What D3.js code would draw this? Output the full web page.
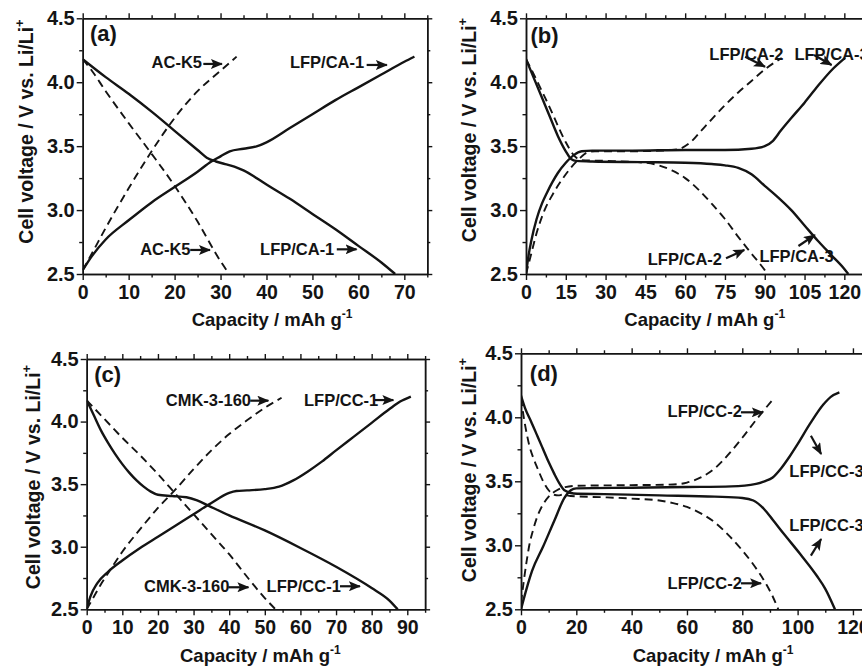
<!DOCTYPE html>
<html><head><meta charset="utf-8">
<script src="https://cdn.jsdelivr.net/npm/d3@7"></script>
<style>
body{margin:0;background:#fff}
svg{display:block}
text{font-family:"Liberation Sans",Arial,Helvetica,sans-serif;font-weight:bold;fill:#141414}
</style>
</head><body>
<svg id="chart" width="862" height="667"></svg>
<script>
// ---------- tick labels ----------
const yTicks = [2.5, 3.0, 3.5, 4.0, 4.5];
const aTicks = [0, 10, 20, 30, 40, 50, 60, 70];
const bTicks = [0, 15, 30, 45, 60, 75, 90, 105, 120];
const cTicks = [0, 10, 20, 30, 40, 50, 60, 70, 80, 90];
const dTicks = [0, 20, 40, 60, 80, 100, 120];

// ---------- panel (a) ----------
const a_LFP_CA1_charge = [[0,2.53],[2,2.64],[5,2.77],[10,2.92],[15,3.06],[20,3.18],[25,3.30],[28,3.38],[30,3.42],[32,3.46],[35,3.48],[38,3.50],[40,3.53],[45,3.64],[50,3.75],[55,3.86],[60,3.96],[65,4.06],[70,4.16],[72.2,4.20]];
const a_LFP_CA1_discharge = [[0,4.18],[5,4.04],[10,3.91],[15,3.77],[20,3.62],[25,3.47],[27,3.41],[29,3.38],[31,3.36],[33,3.34],[35,3.31],[40,3.20],[45,3.09],[50,2.97],[55,2.85],[60,2.72],[65,2.59],[68,2.50]];
const a_ACK5_charge = [[0,2.53],[2,2.66],[5,2.86],[10,3.17],[15,3.46],[20,3.72],[25,3.93],[30,4.09],[33.5,4.20]];
const a_ACK5_discharge = [[0,4.18],[2,4.09],[5,3.93],[10,3.68],[15,3.44],[20,3.19],[25,2.91],[30,2.60],[31.5,2.52]];

// ---------- panel (b) ----------
const b_LFP_CA3_charge = [[0,2.50],[1,2.65],[2,2.76],[4,2.93],[6,3.05],[8,3.14],[10,3.22],[12,3.29],[15,3.37],[18,3.43],[21,3.46],[25,3.465],[40,3.465],[60,3.47],[75,3.47],[85,3.48],[90,3.50],[93,3.54],[96,3.62],[100,3.72],[105,3.84],[110,3.97],[115,4.09],[120.3,4.19]];
const b_LFP_CA3_discharge = [[0,4.18],[3,4.03],[6,3.88],[9,3.73],[12,3.58],[15,3.46],[17,3.40],[19,3.385],[25,3.38],[45,3.375],[60,3.37],[70,3.36],[75,3.35],[80,3.33],[85,3.28],[90,3.19],[95,3.10],[100,3.00],[105,2.88],[110,2.76],[115,2.65],[120,2.54],[121.5,2.50]];
const b_LFP_CA2_charge = [[0,2.50],[2,2.66],[4,2.82],[7,3.00],[10,3.12],[15,3.28],[20,3.40],[23,3.45],[26,3.46],[40,3.46],[55,3.47],[58,3.48],[62,3.53],[66,3.62],[70,3.71],[75,3.82],[80,3.92],[85,4.01],[90,4.10],[96.4,4.19]];
const b_LFP_CA2_discharge = [[0,4.18],[3,4.06],[6,3.93],[9,3.80],[12,3.66],[15,3.53],[18,3.43],[21,3.39],[30,3.385],[45,3.37],[50,3.35],[55,3.31],[60,3.25],[65,3.16],[70,3.05],[75,2.93],[80,2.79],[85,2.66],[90,2.53],[91,2.50]];

// ---------- panel (c) ----------
const c_LFP_CC1_charge = [[0,2.50],[1,2.60],[3,2.71],[6,2.80],[10,2.89],[15,2.99],[20,3.08],[25,3.17],[30,3.26],[35,3.35],[40,3.43],[42,3.445],[45,3.45],[50,3.46],[54,3.48],[58,3.53],[62,3.60],[66,3.68],[70,3.77],[75,3.88],[80,3.99],[85,4.10],[88,4.16],[91,4.20]];
const c_LFP_CC1_discharge = [[0,4.17],[2,4.05],[4,3.93],[6,3.83],[8,3.74],[10,3.66],[12,3.59],[14,3.53],[16,3.48],[18,3.44],[20,3.415],[24,3.405],[28,3.395],[31,3.37],[34,3.33],[40,3.25],[50,3.13],[60,2.99],[70,2.84],[80,2.67],[85,2.57],[87.3,2.50]];
const c_CMK_charge = [[0,2.50],[2,2.60],[4,2.70],[6.5,2.81],[10,2.96],[15,3.14],[20,3.31],[25,3.46],[30,3.62],[35,3.77],[40,3.90],[45,4.01],[50,4.11],[54.7,4.19]];
const c_CMK_discharge = [[0,4.17],[5,4.02],[10,3.87],[15,3.73],[20,3.58],[25,3.42],[30,3.26],[35,3.10],[40,2.94],[45,2.76],[50,2.59],[53,2.50]];

// ---------- panel (d) ----------
const d_LFP_CC3_charge = [[0,2.50],[2,2.66],[4,2.80],[8,2.99],[12,3.19],[15.7,3.37],[18,3.43],[20,3.445],[40,3.45],[60,3.455],[76,3.46],[85,3.48],[88,3.50],[91,3.53],[94,3.60],[97,3.69],[100,3.79],[104.5,3.95],[109.3,4.10],[112,4.16],[115.1,4.195]];
const d_LFP_CC3_discharge = [[0,4.17],[1.5,4.07],[3.6,3.97],[6,3.85],[7.8,3.76],[10,3.65],[12,3.56],[14,3.48],[15.7,3.43],[19,3.405],[30,3.40],[50,3.39],[70,3.38],[80,3.37],[84,3.35],[88,3.28],[91,3.20],[95,3.09],[101,2.93],[107,2.76],[110,2.66],[113.5,2.50]];
const d_LFP_CC2_charge = [[0,2.55],[1,2.72],[2,2.87],[3,3.00],[4.5,3.13],[6,3.23],[8,3.32],[10,3.38],[13,3.43],[16,3.455],[20,3.465],[40,3.47],[55,3.475],[60,3.49],[65,3.53],[70,3.60],[75,3.71],[80,3.84],[85,3.98],[88,4.06],[91.5,4.15]];
const d_LFP_CC2_discharge = [[0,4.15],[1,4.00],[2,3.88],[3,3.78],[4.5,3.68],[6,3.60],[8,3.50],[10,3.43],[12,3.395],[13.5,3.39],[15,3.395],[18,3.385],[30,3.375],[40,3.365],[50,3.35],[55,3.33],[60,3.30],[65,3.25],[70,3.18],[75,3.08],[80,2.96],[84,2.85],[88,2.72],[91,2.60],[93,2.50]];

// ---------- annotation texts ----------
const aLabels = ["AC-K5", "LFP/CA-1", "AC-K5", "LFP/CA-1"];
const bLabels = ["LFP/CA-2", "LFP/CA-3", "LFP/CA-2", "LFP/CA-3"];
const cLabels = ["CMK-3-160", "LFP/CC-1", "CMK-3-160", "LFP/CC-1"];
const dLabels = ["LFP/CC-2", "LFP/CC-3", "LFP/CC-3", "LFP/CC-2"];

// ================= drawing =================
const svg = d3.select("#chart");
const INK = "#141414";

const defs = svg.append("defs");
defs.append("marker").attr("id","ah").attr("markerUnits","userSpaceOnUse")
  .attr("markerWidth",12).attr("markerHeight",10).attr("refX",11).attr("refY",5)
  .attr("orient","auto")
  .append("path").attr("d","M0,0 L12,5 L0,10 L2.5,5 Z").attr("fill",INK);

function panel(cfg) {
  const x = d3.scaleLinear().domain(cfg.xd).range(cfg.xr);
  const y = d3.scaleLinear().domain([2.5, 4.5]).range(cfg.yr);
  const g = svg.append("g");
  const clipId = "clip" + cfg.id;
  defs.append("clipPath").attr("id", clipId).append("rect")
    .attr("x", cfg.xr[0]).attr("y", cfg.yr[1])
    .attr("width", cfg.xr[1] - cfg.xr[0]).attr("height", cfg.yr[0] - cfg.yr[1]);

  // curves
  const line = d3.line().x(d => x(d[0])).y(d => y(d[1])).curve(d3.curveMonotoneX);
  const cg = g.append("g").attr("clip-path", `url(#${clipId})`);
  cfg.series.forEach(s => {
    cg.append("path").attr("d", line(s.data)).attr("fill","none")
      .attr("stroke", INK)
      .attr("stroke-width", s.dash ? 1.9 : 2.4)
      .attr("stroke-dasharray", s.dash ? "8,5" : null)
      .attr("stroke-linejoin","round");
  });

  // axes
  const minorX = d3.range(cfg.xd[0], cfg.xd[1] + 1e-9, cfg.minor).filter(v => !cfg.ticks.some(t => Math.abs(t - v) < 1e-9));
  const minorY = d3.range(2.5, 4.5 + 1e-9, 0.25).filter(v => !yTicks.some(t => Math.abs(t - v) < 1e-9));
  const style = (sel, fs) => {
    sel.attr("font-family", null).attr("font-size", null);
    sel.select(".domain").attr("stroke", INK).attr("stroke-width", 1.5);
    sel.selectAll(".tick line").attr("stroke", INK).attr("stroke-width", 1.4);
    sel.selectAll(".tick text").attr("font-size", fs || 19).attr("fill", INK);
  };
  const H = cfg.yr[0], T = cfg.yr[1], L = cfg.xr[0], R = cfg.xr[1];
  g.append("g").attr("transform", `translate(0,${H})`)
    .call(d3.axisBottom(x).tickValues(cfg.ticks).tickFormat(d3.format("d")).tickSize(6).tickSizeOuter(0).tickPadding(5)).call(style, 19.5);
  g.append("g").attr("transform", `translate(0,${H})`)
    .call(d3.axisBottom(x).tickValues(minorX).tickFormat("").tickSize(3.5).tickSizeOuter(0)).call(style);
  g.append("g").attr("transform", `translate(0,${T})`)
    .call(d3.axisTop(x).tickValues(cfg.ticks).tickFormat("").tickSize(5).tickSizeOuter(0)).call(style);
  g.append("g").attr("transform", `translate(0,${T})`)
    .call(d3.axisTop(x).tickValues(minorX).tickFormat("").tickSize(3).tickSizeOuter(0)).call(style);
  g.append("g").attr("transform", `translate(${L},0)`)
    .call(d3.axisLeft(y).tickValues(yTicks).tickFormat(d3.format(".1f")).tickSize(6).tickSizeOuter(0).tickPadding(2)).call(style, 20);
  g.append("g").attr("transform", `translate(${L},0)`)
    .call(d3.axisLeft(y).tickValues(minorY).tickFormat("").tickSize(3.5).tickSizeOuter(0)).call(style);
  g.append("g").attr("transform", `translate(${R},0)`)
    .call(d3.axisRight(y).tickValues(yTicks).tickFormat("").tickSize(5).tickSizeOuter(0)).call(style);
  g.append("g").attr("transform", `translate(${R},0)`)
    .call(d3.axisRight(y).tickValues(minorY).tickFormat("").tickSize(3).tickSizeOuter(0)).call(style);

  // panel letter
  g.append("text").attr("x", x(cfg.tag[1])).attr("y", y(cfg.tag[2]))
    .attr("font-size", 22).text(cfg.tag[0]);

  // annotations
  cfg.notes.forEach((n, i) => {
    g.append("text").attr("x", x(n.t[0])).attr("y", y(n.t[1]))
      .attr("font-size", 16.5).text(cfg.labels[i]);
    g.append("line")
      .attr("x1", x(n.a[0])).attr("y1", y(n.a[1]))
      .attr("x2", x(n.a[2])).attr("y2", y(n.a[3]))
      .attr("stroke", INK).attr("stroke-width", 2.2).attr("marker-end", "url(#ah)");
  });

  // axis titles
  const xt = g.append("text").attr("x", cfg.xt[0]).attr("y", cfg.xt[1]).attr("font-size", 18.5);
  xt.append("tspan").text("Capacity / mAh g");
  xt.append("tspan").attr("font-size", 12).attr("dy", -8).text("-1");

  const yt = g.append("text")
    .attr("transform", `translate(${cfg.yt[0]},${cfg.yt[1]}) rotate(-90)`)
    .attr("text-anchor", "middle").attr("font-size", 19.5);
  yt.append("tspan").text("Cell voltage / V vs. Li/Li");
  yt.append("tspan").attr("font-size", 13).attr("dy", -9).text("+");
}

panel({
  id: "a", xd: [0, 75], xr: [82.7, 427.3], yr: [274, 18.3], ticks: aTicks, minor: 5,
  series: [{data: a_LFP_CA1_charge}, {data: a_LFP_CA1_discharge}, {data: a_ACK5_charge, dash: true}, {data: a_ACK5_discharge, dash: true}],
  tag: ["(a)", 1.6, 4.32], labels: aLabels,
  notes: [
    {t: [15.0, 4.111], a: [26.25, 4.143, 30.3, 4.143]},
    {t: [45.1, 4.111], a: [61.8, 4.135, 66.2, 4.135]},
    {t: [12.5, 2.649], a: [23.4, 2.688, 27.7, 2.688]},
    {t: [38.6, 2.649], a: [55.3, 2.693, 59.6, 2.693]}
  ],
  xt: [191.7, 325.5], yt: [32.5, 131.5]
});

panel({
  id: "b", xd: [0, 127], xr: [526, 862.9], yr: [274, 18.3], ticks: bTicks, minor: 7.5,
  series: [{data: b_LFP_CA3_charge}, {data: b_LFP_CA3_discharge}, {data: b_LFP_CA2_charge, dash: true}, {data: b_LFP_CA2_discharge, dash: true}],
  tag: ["(b)", 1.7, 4.31], labels: bLabels,
  notes: [
    {t: [69.1, 4.174], a: [82.6, 4.20, 90.1, 4.121]},
    {t: [101.2, 4.174], a: [108.6, 4.213, 115.2, 4.135]},
    {t: [45.9, 2.570], a: [75.4, 2.623, 82.3, 2.688]},
    {t: [88.0, 2.596], a: [102.7, 2.719, 108.9, 2.805]}
  ],
  xt: [624.3, 325.5], yt: [476, 130]
});

panel({
  id: "c", xd: [0, 95], xr: [86.7, 425.1], yr: [609.3, 359], ticks: cTicks, minor: 5,
  series: [{data: c_LFP_CC1_charge}, {data: c_LFP_CC1_discharge}, {data: c_CMK_charge, dash: true}, {data: c_CMK_discharge, dash: true}],
  tag: ["(c)", 2.1, 4.316], labels: cLabels,
  notes: [
    {t: [22.2, 4.127], a: [45.9, 4.167, 51.0, 4.167]},
    {t: [61.0, 4.127], a: [80.9, 4.172, 86.1, 4.172]},
    {t: [16.1, 2.636], a: [39.75, 2.676, 45.4, 2.676]},
    {t: [50.5, 2.636], a: [71.1, 2.684, 76.7, 2.684]}
  ],
  xt: [180, 662], yt: [40, 477]
});

panel({
  id: "d", xd: [0, 124], xr: [521, 864], yr: [609.3, 353.3], ticks: dTicks, minor: 10,
  series: [{data: d_LFP_CC3_charge}, {data: d_LFP_CC3_discharge}, {data: d_LFP_CC2_charge, dash: true}, {data: d_LFP_CC2_discharge, dash: true}],
  tag: ["(d)", 3.2, 4.284], labels: dLabels,
  notes: [
    {t: [53.0, 4.0], a: [79.5, 4.039, 87.4, 4.039]},
    {t: [97.0, 3.531], a: [104.8, 3.856, 108.5, 3.713]},
    {t: [97.0, 3.114], a: [104.8, 2.919, 108.5, 3.049]},
    {t: [53.0, 2.659], a: [79.5, 2.703, 86.8, 2.703]}
  ],
  xt: [632.7, 662], yt: [476, 470]
});
</script>
</body></html>
